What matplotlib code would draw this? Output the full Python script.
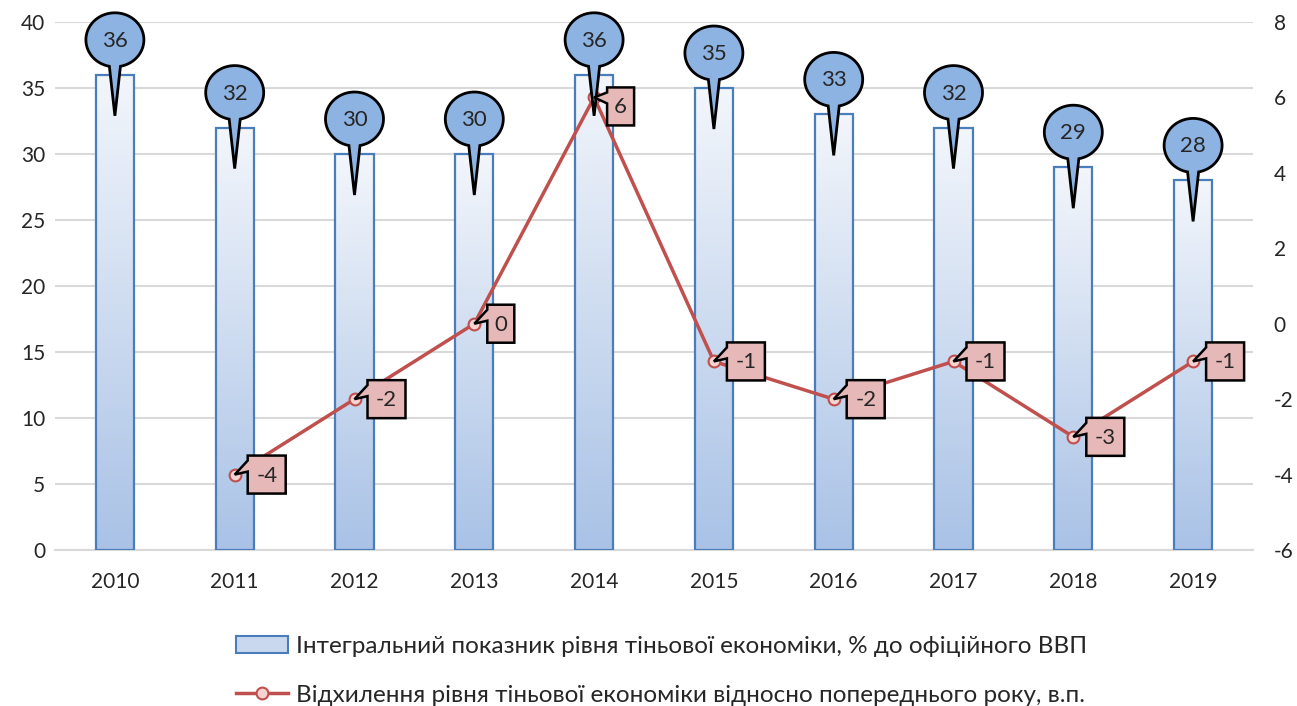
import numpy as np
import matplotlib
matplotlib.use('Agg')
import matplotlib.pyplot as plt
import matplotlib.transforms as mtransforms
from matplotlib.path import Path
from matplotlib.patches import PathPatch, Patch
from matplotlib.lines import Line2D
from matplotlib.colors import LinearSegmentedColormap

years = ['2010', '2011', '2012', '2013', '2014', '2015', '2016', '2017', '2018', '2019']
shadow = [36, 32, 30, 30, 36, 35, 33, 32, 29, 28]
dev_years = years[1:]
deviation = [-4, -2, 0, 6, -1, -2, -1, -3, -1]

bar_label = 'Інтегральний показник рівня тіньової економіки, % до офіційного ВВП'
line_label = 'Відхилення рівня тіньової економіки відносно попереднього року, в.п.'

plt.rcParams['font.family'] = ['Lato', 'DejaVu Sans']
plt.rcParams['axes.unicode_minus'] = False
txt_color = '#262626'

fig = plt.figure(figsize=(12.97, 7.06), dpi=100)
ax = fig.add_axes([55 / 1297, 156 / 706, 1198 / 1297, 528 / 706])
x = np.arange(len(years))

# bars with vertical gradient
bars = ax.bar(x, shadow, width=0.32, facecolor='none', edgecolor='#4a7ebb', lw=1.6, zorder=3)
grad = np.linspace(0, 1, 256).reshape(-1, 1)
cmap = LinearSegmentedColormap.from_list('g', ['#f3f6fb', '#a9c2e6'])
for b in bars:
    im = ax.imshow(grad, cmap=cmap, aspect='auto', origin='upper', zorder=2.5,
                   extent=[b.get_x(), b.get_x() + b.get_width(), 0, b.get_height()])
    im.set_clip_path(b)

ax.set_xlim(-0.5, len(years) - 0.5)
ax.set_ylim(0, 40)
ax.set_yticks(range(0, 41, 5))
ax.set_xticks(x)
ax.set_xticklabels(years)
ax.grid(axis='y', color='#d9d9d9', lw=1.5)
ax.set_axisbelow(True)
for s in ['top', 'right', 'left']:
    ax.spines[s].set_visible(False)
ax.spines['bottom'].set_color('#d9d9d9')
ax.spines['bottom'].set_linewidth(1.5)
ax.tick_params(axis='y', length=0, labelsize=15, pad=7, labelcolor=txt_color)
ax.tick_params(axis='x', length=0, labelsize=15, pad=16, labelcolor=txt_color)

# deviation line on right axis
ax2 = ax.twinx()
ax2.set_ylim(-6, 8)
ax2.set_yticks(range(-6, 9, 2))
for s in ax2.spines.values():
    s.set_visible(False)
ax2.tick_params(axis='y', length=0, labelsize=15, pad=15, labelcolor=txt_color)
dx = [years.index(y) for y in dev_years]
ax2.plot(dx, deviation, color='#c0504d', lw=2.5, marker='o', ms=8.5,
         mfc='#f6d2d1', mec='#c0504d', mew=1.5, zorder=3)

# blue balloon callouts
a, bh, cy, tip, gap = 29, 27, 35, -41, np.deg2rad(11)
t = np.linspace(-np.pi / 2 + gap, 3 * np.pi / 2 - gap, 80)
verts = [(a * np.cos(tt), cy + bh * np.sin(tt)) for tt in t] + [(0, tip), (0, tip)]
codes = [Path.MOVETO] + [Path.LINETO] * (len(verts) - 2) + [Path.CLOSEPOLY]
balloon = Path(verts, codes)
for xi, v in zip(x, shadow):
    tr = mtransforms.Affine2D() + mtransforms.ScaledTranslation(xi, v, ax.transData)
    ax2.add_patch(PathPatch(balloon, transform=tr, facecolor='#8db3e2', edgecolor='black',
                            lw=2, zorder=10, clip_on=False))
    ax2.annotate(str(v), xy=(xi, v), xycoords=ax.transData, xytext=(0, cy - 1),
                 textcoords='offset pixels', ha='center', va='center', fontsize=16,
                 color=txt_color, zorder=11, annotation_clip=False)

# red square callouts
for xi, v in zip(dx, deviation):
    s = str(v)
    w, h = 16 + 11 * len(s), 38
    x0, dy = 13, (-9 if v == 6 else 0)
    top = dy + h / 2
    bot = dy - h / 2
    pts = [(x0, top), (x0 + w, top), (x0 + w, bot), (x0, bot), (x0, top - 16),
           (0, 0), (x0, top - 5), (x0, top)]
    pc = [Path.MOVETO] + [Path.LINETO] * (len(pts) - 2) + [Path.CLOSEPOLY]
    tr = mtransforms.Affine2D() + mtransforms.ScaledTranslation(xi, v, ax2.transData)
    ax2.add_patch(PathPatch(Path(pts, pc), transform=tr, facecolor='#e6b9b8',
                            edgecolor='black', lw=1.8, zorder=12, clip_on=False))
    ax2.annotate(s, xy=(xi, v), xycoords=ax2.transData, xytext=(x0 + w / 2, dy - 1),
                 textcoords='offset pixels', ha='center', va='center', fontsize=16,
                 color=txt_color, zorder=13, annotation_clip=False)

handles = [Patch(facecolor='#c9d8ee', edgecolor='#4a7ebb', lw=1.5),
           Line2D([], [], color='#c0504d', lw=2.5, marker='o', ms=8.5,
                  mfc='#f6d2d1', mec='#c0504d', mew=1.5)]
fig.legend(handles, [bar_label, line_label], loc='center', bbox_to_anchor=(0.510, 0.05),
           frameon=False, fontsize=17.5, labelspacing=1.15, handlelength=2.15,
           handletextpad=0.3, labelcolor=txt_color, borderpad=0.2)

fig.savefig('out.png', dpi=100)
